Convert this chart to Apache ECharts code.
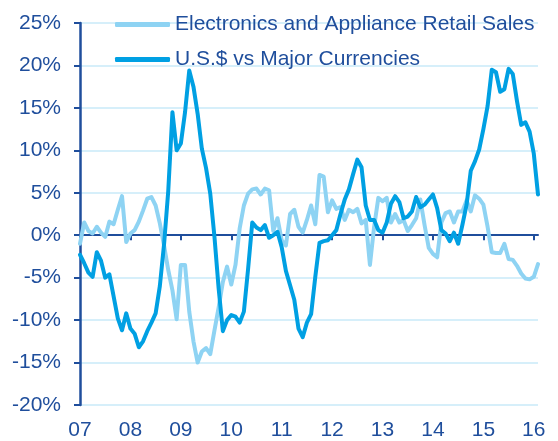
<!DOCTYPE html>
<html>
<head>
<meta charset="utf-8">
<script src="https://cdn.jsdelivr.net/npm/echarts@6/dist/echarts.min.js"></script>
<style>
html,body{margin:0;padding:0;background:#fff;}
#chart{width:558px;height:441px;}
</style>
</head>
<body>
<div id="chart"></div>
<script>
const yearLabels = ['07','08','09','10','11','12','13','14','15','16'];
const monthsCount = 110; // Jan 2007 .. Feb 2016

const seriesNames = ['Electronics and Appliance Retail Sales', 'U.S.$ vs Major Currencies'];

const electronics = [
  -1.0, 1.5, 0.5, 0.2, 1.0, 0.3, -0.2, 1.6, 1.3, 3.0,
  4.6, -0.8, 0.2, 0.6, 1.6, 2.9, 4.3, 4.5, 3.5, 1.4,
  -1.2, -4.1, -6.5, -9.9, -3.5, -3.5, -9.0, -12.5, -15.0, -13.7,
  -13.3, -14.0, -11.2, -8.5, -5.5, -3.7, -5.8, -3.5, 0.8, 3.5,
  4.9, 5.4, 5.5, 4.8, 5.5, 5.3, 0.5, 2.0, -0.6, -1.2,
  2.5, 3.0, 1.0, 0.3, 1.8, 3.5, 1.3, 7.1, 6.9, 2.7,
  4.1, 3.1, 3.3, 1.8, 3.0, 2.7, 3.1, 1.4, 1.8, -3.5,
  1.0, 4.4, 4.0, 4.4, 1.5, 2.5, 1.5, 1.8, 0.5, 1.2,
  2.0, 4.2, 1.2, -1.5, -2.2, -2.6, 1.5, 2.6, 2.8, 1.5,
  2.8, 2.8, 4.1, 2.8, 4.7, 4.3, 3.6, 1.0, -2.0, -2.1,
  -2.1, -1.0, -2.8, -2.9, -3.6, -4.5, -5.1, -5.2, -4.9, -3.4
];

const usd = [
  -2.3, -3.3, -4.4, -4.9, -2.0, -3.0, -5.0, -4.6, -7.2, -9.8,
  -11.2, -9.2, -11.0, -11.6, -13.2, -12.5, -11.3, -10.3, -9.2, -6.0,
  -1.1, 5.2, 14.5, 10.0, 10.8, 14.5, 19.4, 17.5, 14.3, 10.2,
  7.9, 4.9, -0.2, -6.3, -11.3, -10.0, -9.4, -9.6, -10.3, -9.0,
  -4.0, 1.5, 0.9, 0.6, 1.2, -0.3, 0.0, 0.4, -1.4, -4.2,
  -5.9, -7.6, -11.0, -12.0, -10.3, -9.3, -4.9, -0.9, -0.7, -0.6,
  0.0, 0.6, 2.5, 4.2, 5.4, 7.2, 8.9, 8.0, 3.5, 1.8,
  1.8, 0.6, 0.3, 1.5, 3.7, 4.6, 3.9, 2.0, 2.2, 2.8,
  4.5, 3.3, 3.6, 4.2, 4.8, 3.2, 0.6, 0.2, -0.7, 0.3,
  -1.0, 1.2, 3.6, 7.6, 8.7, 10.1, 12.5, 15.2, 19.5, 19.2,
  16.9, 17.2, 19.6, 19.0, 15.8, 13.0, 13.3, 12.2, 9.6, 4.8
];

const categories = [];
for (let i = 0; i < monthsCount; i++) {
  const y = Math.floor(i / 12);
  const mo = i % 12;
  categories.push(mo === 0 ? yearLabels[y] : yearLabels[y] + '-' + (mo + 1));
}

const darkBlue = '#1F4E9C';
const chart = echarts.init(document.getElementById('chart'), null, {renderer: 'canvas'});
const fontFamily = '"Liberation Sans", Arial, sans-serif';

chart.setOption({
  animation: false,
  backgroundColor: '#ffffff',
  textStyle: {fontFamily: fontFamily},
  grid: {left: 80, right: 20, top: 23, bottom: 35, containLabel: false},
  legend: {
    orient: 'vertical',
    left: 110,
    top: 9,
    itemWidth: 55,
    itemHeight: 5,
    itemGap: 14,
    icon: 'roundRect',
    textStyle: {color: darkBlue, fontSize: 21, fontFamily: fontFamily},
    data: seriesNames
  },
  xAxis: [
    {
      type: 'category',
      data: categories,
      boundaryGap: false,
      position: 'bottom',
      axisLine: {show: false, onZero: false},
      axisTick: {show: false},
      splitLine: {show: false},
      axisLabel: {
        color: darkBlue, fontSize: 21, margin: 15, fontFamily: fontFamily,
        interval: 11,
        formatter: function (v) { return v.length === 2 ? v : ''; }
      }
    },
    {
      type: 'category',
      data: categories,
      boundaryGap: false,
      position: 'bottom',
      axisLine: {show: true, onZero: true, lineStyle: {color: darkBlue, width: 2}},
      axisTick: {show: true, interval: 11, length: 5, lineStyle: {color: darkBlue, width: 2}},
      axisLabel: {show: false},
      splitLine: {show: false}
    }
  ],
  yAxis: {
    type: 'value',
    min: -20,
    max: 25,
    interval: 5,
    axisLine: {show: true, lineStyle: {color: darkBlue, width: 2.5}},
    axisTick: {show: true, length: 6, lineStyle: {color: darkBlue, width: 2}},
    axisLabel: {color: darkBlue, fontSize: 21, margin: 19, fontFamily: fontFamily, formatter: '{value}%'},
    splitLine: {show: true, lineStyle: {color: '#C8EAF8', width: 1.5}}
  },
  series: [
    {
      name: seriesNames[0],
      type: 'line',
      data: electronics,
      xAxisIndex: 0,
      showSymbol: false,
      symbol: 'none',
      color: '#8ED3F3',
      lineStyle: {color: '#8ED3F3', width: 4, join: 'round', cap: 'round'},
      z: 2
    },
    {
      name: seriesNames[1],
      type: 'line',
      data: usd,
      xAxisIndex: 0,
      showSymbol: false,
      symbol: 'none',
      color: '#00A0E3',
      lineStyle: {color: '#00A0E3', width: 4, join: 'round', cap: 'round'},
      z: 3
    }
  ]
});
</script>
</body>
</html>
